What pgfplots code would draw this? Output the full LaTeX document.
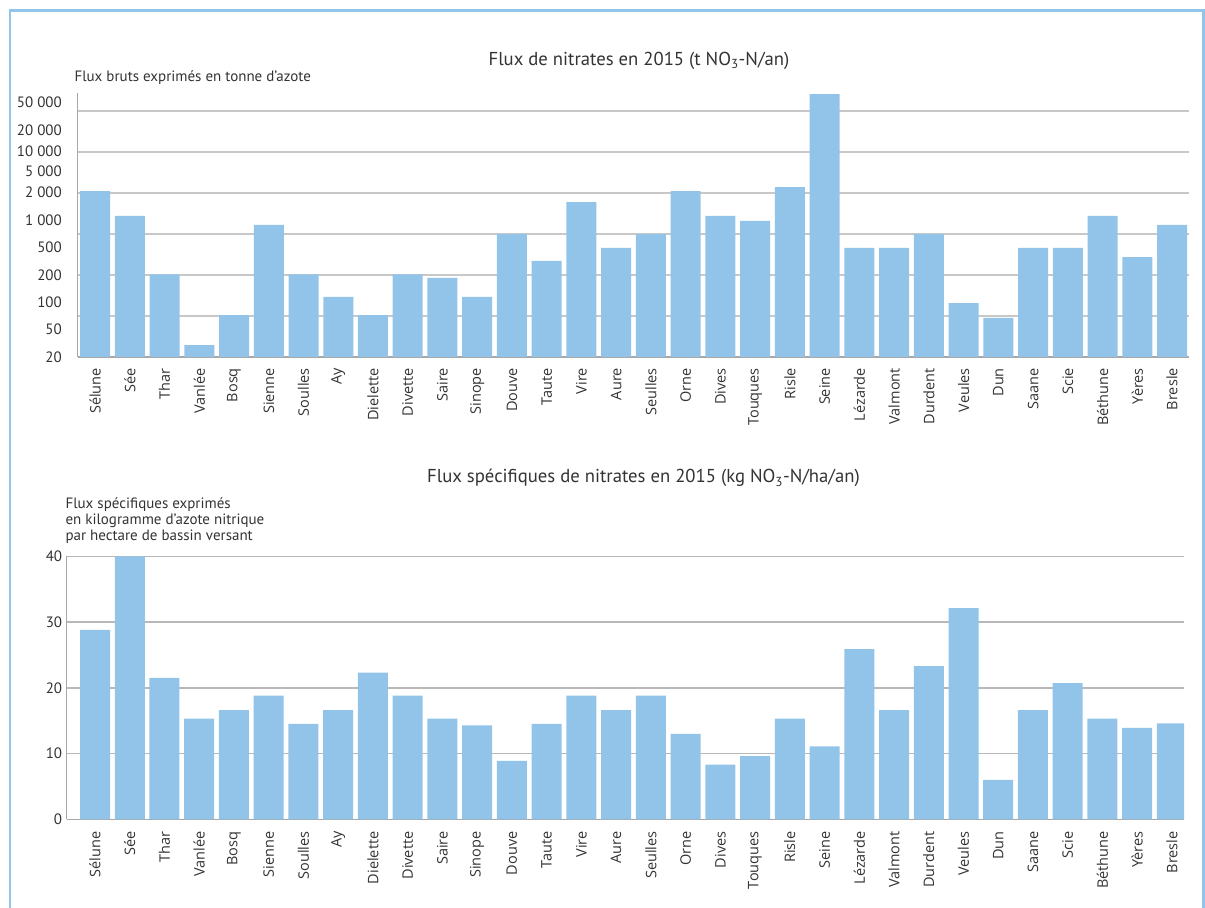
\documentclass[border=0pt]{standalone}
\usepackage{pgfplots}
\pgfplotsset{compat=1.18}
\usepackage{pgfplotstable}
\usepackage{fontspec}
\setmainfont{PT Sans}
\newfontfamily\xlabfont{Open Sans}
\definecolor{barblue}{HTML}{92C4E9}
\definecolor{frameblue}{HTML}{92C5EA}
\definecolor{gridgray}{HTML}{C8C8C8}
\definecolor{gridgrayB}{HTML}{B8B8B8}
\definecolor{axisgray}{HTML}{A8A8A8}
\definecolor{txt}{HTML}{333333}

\pgfplotstableread{
x y
0 2115
1 1050
2 204
3 28
4 65
5 815
6 204
7 108
8 65
9 204
10 184
11 108
12 632
13 297
14 1553
15 427
16 632
17 2115
18 1050
19 912
20 2365
21 32200
22 427
23 427
24 632
25 91
26 60
27 427
28 427
29 1050
30 331
31 815
}\topdata

\pgfplotstableread{
x y
0 28.8
1 40
2 21.5
3 15.3
4 16.6
5 18.8
6 14.5
7 16.6
8 22.3
9 18.8
10 15.3
11 14.3
12 8.9
13 14.5
14 18.8
15 16.6
16 18.8
17 13.0
18 8.3
19 9.6
20 15.3
21 11.1
22 25.9
23 16.6
24 23.3
25 32.1
26 6.0
27 16.6
28 20.7
29 15.3
30 13.9
31 14.6
}\bottomdata

\def\rivers{S\'elune,S\'ee,Thar,Vanl\'ee,Bosq,Sienne,Soulles,Ay,Dielette,Divette,Saire,Sinope,Douve,Taute,Vire,Aure,Seulles,Orne,Dives,Touques,Risle,Seine,L\'ezarde,Valmont,Durdent,Veules,Dun,Saane,Scie,B\'ethune,Y\`eres,Bresle}

\pgfplotsset{
  common/.style={
    scale only axis,
    axis x line*=bottom, axis y line*=left,
    axis line style={-, draw=axisgray, line width=1.2bp},
    xtick={0,...,31},
    xticklabels/.expanded={\rivers},
    xticklabel style={font=\xlabfont\fontsize{14.5bp}{17bp}\selectfont, rotate=90, anchor=east, inner sep=0pt, text=txt},
    yticklabel style={font=\fontsize{15bp}{18bp}\selectfont, anchor=east, inner sep=0pt, text=txt},
    major tick length=0pt, minor tick length=0pt,
    tick style={draw=none},
  }
}

\begin{document}
\begin{tikzpicture}
\useasboundingbox (0,0) rectangle (1205bp,908bp);
\draw[frameblue, line width=2.5bp] (10bp,0) -- (10bp,897.7bp) -- (1203.5bp,897.7bp) -- (1203.5bp,0);

% ---------- top chart ----------
\node[anchor=base, font=\fontsize{18.7bp}{21bp}\selectfont, text=txt] at (639bp,842.7bp)
  {Flux de nitrates en 2015 (t NO\textsubscript{3}-N/an)};
\node[anchor=base west, font=\fontsize{15bp}{17bp}\selectfont, text=txt] at (71bp,826bp)
  {Flux bruts exprimés en tonne d’azote};

\begin{axis}[common,
  at={(77.7bp,551bp)}, anchor=south west,
  width=1111.7bp, height=264bp,
  xmin=-0.5, xmax=31.5,
  ymode=log, ymin=20, ymax=33160,
  log origin=infty,
  ytick={20,43.9,93.7,200,439,937,2017,3638,6504,11732,25250},
  yticklabels={20,50,100,200,500,1 000,2 000,5 000,10 000,20 000,50 000},
  yticklabel shift=15.7bp,
  xticklabel shift=11bp,
  minor ytick={63.25,200,632.5,2000,6325,20000},
  ymajorgrids=false, yminorgrids=true,
  minor grid style={draw=gridgray, line width=1.5bp},
]
\addplot[ybar, fill=barblue, draw=none, bar width=30bp, bar shift=0pt] table[x=x,y=y]{\topdata};
\end{axis}

% ---------- bottom chart ----------
\node[anchor=base, font=\fontsize{18.7bp}{21bp}\selectfont, text=txt] at (643.5bp,425bp)
  {Flux spécifiques de nitrates en 2015 (kg NO\textsubscript{3}-N/ha/an)};
\node[anchor=base west, font=\fontsize{15bp}{17bp}\selectfont, text=txt] at (62bp,399.3bp) {Flux spécifiques exprimés};
\node[anchor=base west, font=\fontsize{15bp}{17bp}\selectfont, text=txt] at (62bp,383.3bp) {en kilogramme d’azote nitrique};
\node[anchor=base west, font=\fontsize{15bp}{17bp}\selectfont, text=txt] at (62bp,367bp) {par hectare de bassin versant};

\begin{axis}[common,
  at={(66.7bp,88.7bp)}, anchor=south west,
  width=1117.4bp, height=263bp,
  xmin=-0.815, xmax=31.35,
  ymin=0, ymax=40,
  ytick={0,10,20,30,40},
  yticklabels={0,10,20,30,40},
  yticklabel shift=4.4bp,
  xticklabel shift=12bp,
  ymajorgrids=true,
  major grid style={draw=gridgrayB, line width=1.5bp},
]
\addplot[ybar, fill=barblue, draw=none, bar width=30bp, bar shift=0pt] table[x=x,y=y]{\bottomdata};
\end{axis}
\end{tikzpicture}
\end{document}
